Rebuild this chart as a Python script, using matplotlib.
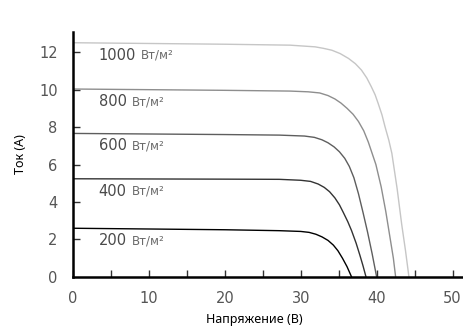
import matplotlib
matplotlib.use("Agg")
import matplotlib.pyplot as plt

# I-V curves (voltage V, current A)
irradiance = [1000, 800, 600, 400, 200]
volt_1000 = [0, 20, 28.6, 31.9, 33.0, 34.1, 35.2, 36.3, 37.2, 38.0, 38.7, 39.3, 39.8,
             40.2, 40.7, 41.1, 41.6, 42.0, 42.7, 43.3, 43.8, 44.25]
amp_1000 = [12.5, 12.42, 12.37, 12.28, 12.2, 12.1, 11.92, 11.66, 11.38, 11.04, 10.62, 10.15, 9.72,
            9.26, 8.65, 8.02, 7.3, 6.6, 4.7, 2.8, 1.4, 0]
volt_800 = [0, 20, 28.6, 31.0, 32.5, 33.6, 34.5, 35.3, 36.1, 36.9, 37.6, 38.3, 38.9,
            39.4, 39.9, 40.6, 41.2, 41.8, 42.2, 42.5]
amp_800 = [10.03, 9.96, 9.92, 9.88, 9.82, 9.68, 9.5, 9.28, 9.0, 8.68, 8.3, 7.8, 7.2,
           6.6, 6.0, 4.8, 3.5, 2.0, 1.0, 0]
volt_600 = [0, 20, 27.2, 30.5, 31.8, 32.8, 33.6, 34.4, 35.1, 35.8, 36.4, 37.0, 37.6,
            38.2, 38.8, 39.4, 40.0]
amp_600 = [7.66, 7.6, 7.57, 7.52, 7.45, 7.32, 7.16, 6.94, 6.68, 6.33, 5.9, 5.3, 4.45,
           3.45, 2.4, 1.25, 0]
volt_400 = [0, 20, 27.2, 30.0, 31.3, 32.3, 33.1, 33.8, 34.5, 35.1, 35.6, 36.2, 36.7,
            37.3, 37.8, 38.2, 38.6]
amp_400 = [5.24, 5.22, 5.21, 5.16, 5.1, 4.96, 4.78, 4.55, 4.22, 3.85, 3.45, 2.95, 2.47,
           1.8, 1.15, 0.6, 0]
volt_200 = [0, 20, 27.2, 30.0, 31.1, 32.0, 32.8, 33.6, 34.3, 34.9, 35.5, 36.1, 36.7]
amp_200 = [2.6, 2.52, 2.47, 2.43, 2.38, 2.28, 2.14, 1.95, 1.7, 1.4, 1.0, 0.55, 0]

curves = [(volt_1000, amp_1000), (volt_800, amp_800), (volt_600, amp_600),
          (volt_400, amp_400), (volt_200, amp_200)]
colors = ["#c6c6c6", "#8e8e8e", "#5e5e5e", "#333333", "#000000"]
unit = "Вт/м²"

tick_font = ["DejaVu Sans"]
label_font = ["Noto Sans", "DejaVu Sans"]

fig = plt.figure(figsize=(4.64, 3.27), dpi=100)
ax = fig.add_axes([0.157, 0.153, 0.843, 0.749])

for (v, a), c, irr in zip(curves, colors, irradiance):
    ax.plot(v, a, color=c, lw=1.0, solid_joinstyle="round")
    # label sits just under the flat part of each curve
    num = ax.text(3.4, a[0] - 0.9, str(irr), fontsize=10.5, color="#4a4a4a",
                  family=tick_font, va="baseline", ha="left")
    ax.annotate(unit, xy=(1, 0), xycoords=num, xytext=(3.5, 0.5),
                textcoords="offset points", fontsize=8.5, color="#6a6a6a",
                family=tick_font, va="bottom", ha="left")

ax.set_xlim(0, 51.5)
ax.set_ylim(0, 13.07)
ax.set_xticks(range(0, 51, 10))
ax.set_xticks(range(5, 51, 10), minor=True)
ax.set_yticks(range(0, 13, 2))

for s in ["top", "right"]:
    ax.spines[s].set_visible(False)
for s in ["left", "bottom"]:
    ax.spines[s].set_linewidth(1.8)
    ax.spines[s].set_color("black")

ax.tick_params(which="both", direction="in", length=5, width=1, color="#333333")
ax.tick_params(axis="x", which="both", pad=10)
ax.tick_params(axis="y", pad=11)
for lbl in ax.get_xticklabels() + ax.get_yticklabels():
    lbl.set_family(tick_font)
    lbl.set_fontsize(10.5)
    lbl.set_color("#555555")
# hide the y tick mark at 0 (label only)
ax.yaxis.get_major_ticks()[0].tick1line.set_visible(False)

ax.set_xlabel("Напряжение (В)", fontsize=9, family=label_font, va="center")
ax.set_ylabel("Ток (А)", fontsize=9, family=label_font, va="center")
ax.xaxis.set_label_coords(0.463, -0.172)
ax.yaxis.set_label_coords(-0.133, 0.5)

fig.savefig("out.png", dpi=100)
